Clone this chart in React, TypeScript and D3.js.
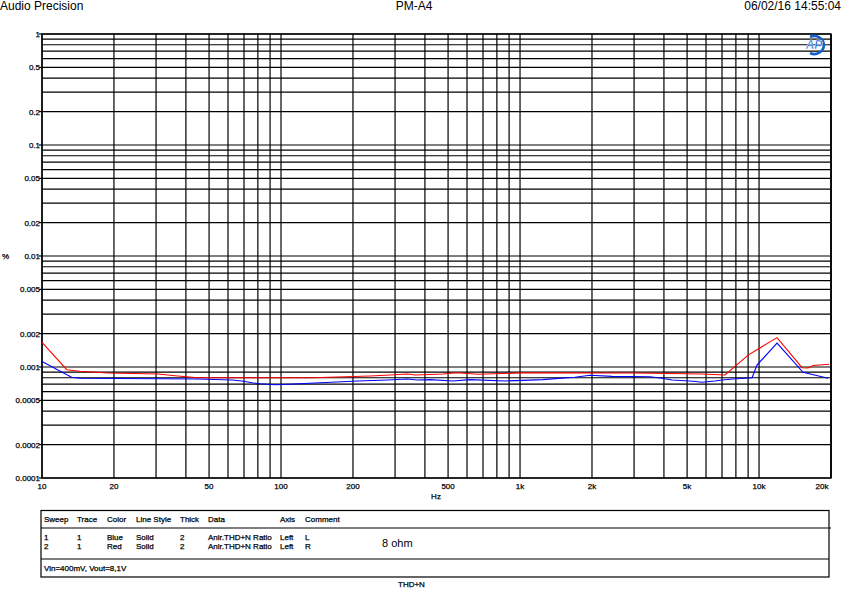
import React from "react";
import * as d3 from "d3";

// sweep 1 (blue, L) and sweep 2 (red, R): [Hz, THD+N ratio %]
const blueL: [number, number][] = [
	[10, 0.00112], [13.3, 0.000808], [14.4, 0.000791], [44.5, 0.00078], [62.4, 0.000764],
	[68.7, 0.000748], [75.6, 0.000722], [81.7, 0.000707], [94.4, 0.000693], [107, 0.000699],
	[132, 0.000714], [210, 0.000748], [280, 0.000764], [337, 0.00078], [371, 0.000764],
	[420, 0.000769], [524, 0.000748], [618, 0.000769], [866, 0.000748], [1248, 0.000769],
	[1401, 0.000785], [1698, 0.000808], [1963, 0.000842], [2426, 0.000824], [3499, 0.000818],
	[3853, 0.000796], [4325, 0.000764], [5295, 0.000743], [5775, 0.000728], [6545, 0.000748],
	[7002, 0.000764], [7785, 0.00078], [9352, 0.000801], [9800, 0.00104], [11890, 0.00164],
	[15280, 0.000896], [19440, 0.000791],
];
const redR: [number, number][] = [
	[10, 0.00167], [12.7, 0.000946], [14.4, 0.000915], [18.9, 0.000883], [30.6, 0.000865],
	[36, 0.000835], [44.9, 0.000801], [135, 0.000801], [236, 0.00083], [286, 0.000847],
	[337, 0.000865], [364, 0.000847], [476, 0.000865], [545, 0.000888], [667, 0.00086],
	[1070, 0.000888], [3030, 0.000883], [5775, 0.000865], [7206, 0.000847], [9000, 0.00128],
	[11890, 0.00184], [15136, 0.000986], [16030, 0.00098], [16830, 0.00103], [19630, 0.00106],
];

const yTicks = [1, 0.5, 0.2, 0.1, 0.05, 0.02, 0.01, 0.005, 0.002, 0.001, 0.0005, 0.0002, 0.0001];
const yTickLabels = ["1", "0.5", "0.2", "0.1", "0.05", "0.02", "0.01", "0.005", "0.002", "0.001", "0.0005", "0.0002", "0.0001"];
const xTicks = [10, 20, 50, 100, 200, 500, 1000, 2000, 5000, 10000, 20000];
const xTickLabels = ["10", "20", "50", "100", "200", "500", "1k", "2k", "5k", "10k", "20k"];

const tableHeaders = ["Sweep", "Trace", "Color", "Line Style", "Thick", "Data", "Axis", "Comment"];
const tableRows = [
	["1", "1", "Blue", "Solid", "2", "Anlr.THD+N Ratio", "Left", "L"],
	["2", "1", "Red", "Solid", "2", "Anlr.THD+N Ratio", "Left", "R"],
];

const W = 860;
const H = 600;
const left = 42;
const right = 831;
const top = 34;
const bottom = 478;
const FONT = "'Liberation Sans', Arial, sans-serif";

export default function App() {
	const x = d3.scaleLog().domain([10, 20000]).range([left, right]);
	const y = d3.scaleLog().domain([0.0001, 1]).range([bottom, top]);

	// 1..9 per decade
	const xGrid: number[] = [];
	for (let dec = 10; dec <= 10000; dec *= 10) {
		for (let k = 1; k <= 9; k++) if (dec * k <= 20000) xGrid.push(dec * k);
	}
	xGrid.push(20000);
	const yGrid: number[] = [];
	for (let dec = 0.0001; dec < 1; dec *= 10) {
		for (let k = 1; k <= 9; k++) yGrid.push(dec * k);
	}
	yGrid.push(1);

	const line = d3
		.line<[number, number]>()
		.x((d) => x(d[0]))
		.y((d) => y(d[1]));

	const colX = [44, 77, 107, 136, 180, 208, 280, 305];

	return (
		<svg width={W} height={H} style={{ position: "absolute", left: 0, top: 0, background: "#fff" }} fontFamily={FONT}>
			<text x={0} y={10} fontSize={12}>Audio Precision</text>
			<text x={414} y={10} fontSize={12} textAnchor="middle">PM-A4</text>
			<text x={841} y={10} fontSize={12} textAnchor="end">06/02/16 14:55:04</text>

			{/* grid */}
			<g stroke="#000" strokeWidth={1.2}>
				{xGrid.map((v, i) => (
					<line key={"xg" + i} x1={x(v)} x2={x(v)} y1={top} y2={bottom} />
				))}
				{yGrid.map((v, i) => (
					<line key={"yg" + i} x1={left} x2={right} y1={y(v)} y2={y(v)} />
				))}
				{yTicks.map((v, i) => (
					<line key={"yt" + i} x1={left - 3} x2={left} y1={y(v)} y2={y(v)} />
				))}
			</g>
			<rect x={left} y={top} width={right - left} height={bottom - top} fill="none" stroke="#000" strokeWidth={1.4} />

			{/* traces */}
			<path d={line(redR) || ""} fill="none" stroke="#ff0000" strokeWidth={1.1} />
			<path d={line(blueL) || ""} fill="none" stroke="#0000ff" strokeWidth={1.1} />

			{/* AP logo */}
			<g transform="translate(815,45)">
				<path d="M -5 -8 A 9.5 9 0 1 1 -5 8" fill="none" stroke="#1560c8" strokeWidth={2.6} />
				<text x={-1} y={4} fontSize={12} fontWeight="bold" fontStyle="italic" textAnchor="middle" fill="#1560c8" stroke="#fff" strokeWidth={0.5}>AP</text>
			</g>

			{/* axis labels */}
			<g fontSize={8} fill="#000" stroke="#000" strokeWidth={0.25}>
				{yTicks.map((v, i) => (
					<text key={"yl" + i} x={40} y={y(v) + 3} textAnchor="end">{yTickLabels[i]}</text>
				))}
				{xTicks.map((v, i) => (
					<text key={"xl" + i} x={i === xTicks.length - 1 ? x(v) - 9 : x(v)} y={489} textAnchor="middle">{xTickLabels[i]}</text>
				))}
				<text x={436} y={499} textAnchor="middle">Hz</text>
				<text x={2} y={259}>%</text>
			</g>

			{/* table */}
			<g stroke="#000" strokeWidth={1.2} fill="none">
				<rect x={41} y={510.5} width={788} height={66.5} />
				<line x1={41} x2={831} y1={528} y2={528} />
				<line x1={41} x2={829} y1={559} y2={559} />
			</g>
			<g fontSize={8} fill="#000" stroke="#000" strokeWidth={0.25}>
				{tableHeaders.map((h, i) => (
					<text key={"th" + i} x={colX[i]} y={522}>{h}</text>
				))}
				{tableRows.map((r, ri) =>
					r.map((c, ci) => (
						<text key={"td" + ri + ci} x={colX[ci]} y={539.5 + ri * 9.3}>{c}</text>
					))
				)}
				<text x={44} y={571}>Vin=400mV, Vout=8,1V</text>
				<text x={398} y={587}>THD+N</text>
			</g>
			<text x={382} y={547} fontSize={11} fill="#000">8 ohm</text>
		</svg>
	);
}
